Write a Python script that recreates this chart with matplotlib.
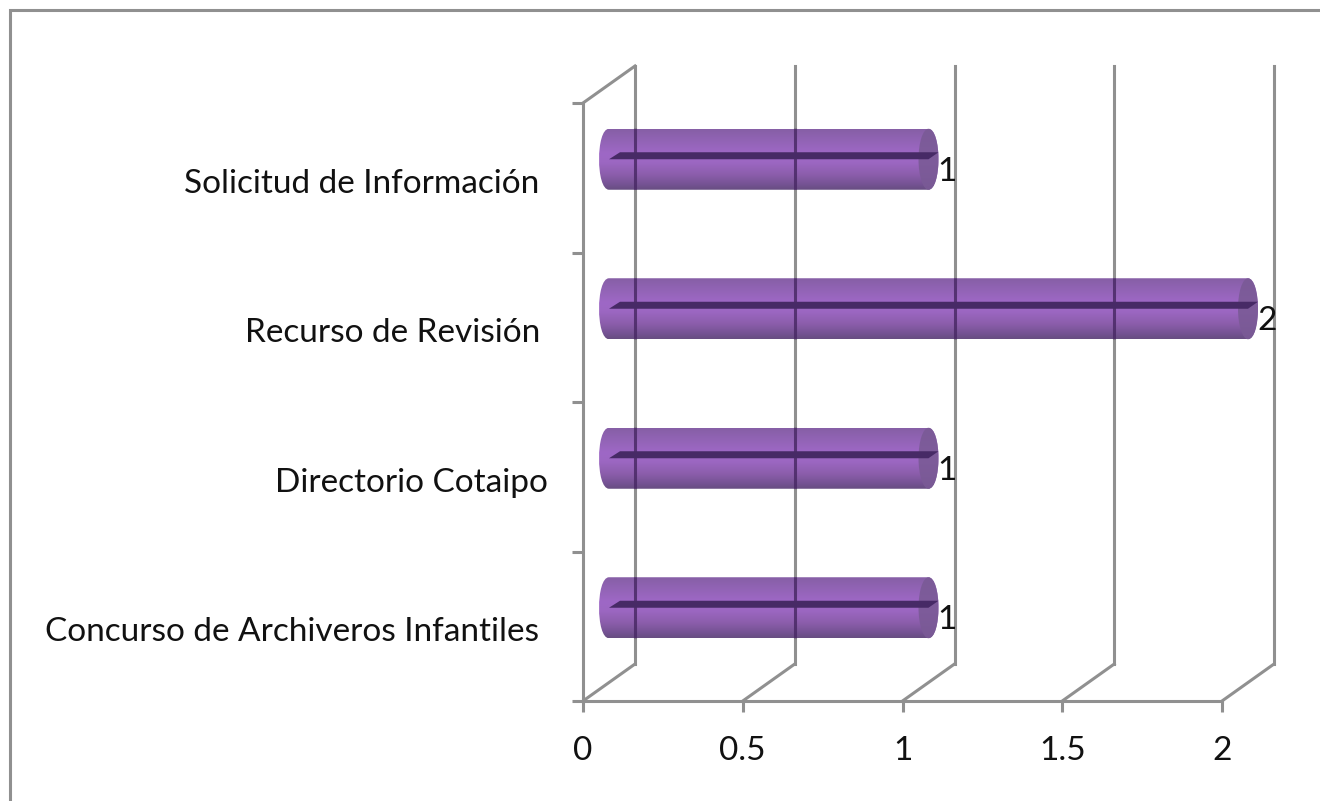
import matplotlib
matplotlib.use('Agg')
import matplotlib.pyplot as plt
import numpy as np
from matplotlib.patches import PathPatch, Rectangle, Ellipse
from matplotlib.path import Path
from matplotlib.transforms import Affine2D

categories = ['Concurso de Archiveros Infantiles', 'Directorio Cotaipo',
              'Recurso de Revisión', 'Solicitud de Información']
values = [1, 1, 2, 1]
x_ticks = [0, 0.5, 1, 1.5, 2]
x_tick_labels = ['0', '0.5', '1', '1.5', '2']

W, H = 1320, 801
GRAY = '#909090'
LINE = 2.2
FONT = 24
plt.rcParams['font.family'] = ['Lato', 'DejaVu Sans']

fig = plt.figure(figsize=(W / 100, H / 100), dpi=100)
fig.add_artist(Rectangle((9.5 / W, -0.1), 1.2, 1.1 - 10.5 / H, transform=fig.transFigure,
                         fill=False, ec=GRAY, lw=LINE))

# front plane of the fake 3d box
ax = fig.add_axes([583 / W, (H - 701) / H, (1222 - 583) / W, (701 - 103) / H])
ax.set_xlim(0, 2)
ax.set_ylim(0, 4)
ypos = np.arange(len(categories)) + 0.5

for name in ['top', 'right']:
    ax.spines[name].set_visible(False)
for name in ['left', 'bottom']:
    ax.spines[name].set_color(GRAY)
    ax.spines[name].set_linewidth(LINE)

ax.set_xticks(x_ticks)
ax.set_xticklabels(x_tick_labels, fontsize=FONT, color='#111111')
ax.set_yticks(ypos)
ax.set_yticklabels(categories, fontsize=FONT, color='#111111')
ax.set_yticks(np.arange(len(categories) + 1), minor=True)
ax.tick_params(axis='x', color=GRAY, width=LINE, length=8, pad=17.5)
ax.tick_params(axis='y', which='major', length=0)
ax.tick_params(axis='y', which='minor', color=GRAY, width=LINE, length=8)
# labels do not share one right edge
for tick, pad in zip(ax.yaxis.get_major_ticks(), [44, 35, 43, 44]):
    tick.set_pad(pad * 0.72)
for label in ax.get_yticklabels():
    label.set_transform(label.get_transform() + Affine2D().translate(0, -3))

depth_x, depth_y = 52, 37
back = ax.transData + Affine2D().translate(depth_x, depth_y)
mid = ax.transData + Affine2D().translate(depth_x / 2, depth_y / 2)
x_px = ax.transData.transform((1, 0))[0] - ax.transData.transform((0, 0))[0]
y_px = ax.transData.transform((0, 1))[1] - ax.transData.transform((0, 0))[1]

# floor and back wall lines
for x in x_ticks:
    ax.plot([x, x + depth_x / x_px], [0, depth_y / y_px], color=GRAY, lw=LINE, clip_on=False, zorder=2)
    ax.plot([x, x], [0, 4], color=GRAY, lw=LINE, transform=back, clip_on=False, zorder=2)
ax.plot([0, depth_x / x_px], [4, 4 + depth_y / y_px], color=GRAY, lw=LINE, clip_on=False, zorder=2)

bar_h = 61 / y_px
cap = 10 / x_px
# colours from top to bottom of the bar
shade = np.array([0.0, 0.12, 0.4, 0.55, 0.75, 0.92, 1.0])
r = np.array([0x86, 0x8e, 0x9e, 0x9c, 0x8c, 0x74, 0x68])
g = np.array([0x5f, 0x62, 0x68, 0x67, 0x5e, 0x52, 0x4e])
b = np.array([0xa6, 0xb0, 0xc6, 0xc2, 0xac, 0x92, 0x82])
t = np.linspace(0, 1, 61)
grad = np.stack([np.interp(t, shade, c) / 255 for c in (r, g, b)], axis=1)[:, None, :]

for y, v in zip(ypos, values):
    # body with rounded ends
    verts = [(0, y - bar_h / 2), (v, y - bar_h / 2),
             (v + cap * 1.33, y - bar_h / 2), (v + cap * 1.33, y + bar_h / 2), (v, y + bar_h / 2),
             (0, y + bar_h / 2),
             (-cap * 1.33, y + bar_h / 2), (-cap * 1.33, y - bar_h / 2), (0, y - bar_h / 2),
             (0, y - bar_h / 2)]
    codes = [Path.MOVETO, Path.LINETO, Path.CURVE4, Path.CURVE4, Path.CURVE4,
             Path.LINETO, Path.CURVE4, Path.CURVE4, Path.CURVE4, Path.CLOSEPOLY]
    outline = PathPatch(Path(verts, codes), transform=mid, fc='none', ec='none')
    ax.add_patch(outline)
    im = ax.imshow(grad, extent=(-2 * cap, v + 2 * cap, y - bar_h / 2, y + bar_h / 2),
                   aspect='auto', transform=mid, zorder=3, interpolation='bilinear')
    im.set_clip_box(fig.bbox)
    im.set_clip_path(outline)

    # gridlines show through the bar
    for x in x_ticks:
        line = ax.plot([x, x], [0, 4], color='#4a2a66', lw=LINE, alpha=0.85, transform=back, zorder=4)[0]
        line.set_clip_box(fig.bbox)
        line.set_clip_path(outline)

    # far end of the cylinder
    ax.add_patch(Ellipse((v, y), 2 * cap, bar_h, transform=mid, fc='#7a5a96', ec='none', alpha=0.9,
                         zorder=5, clip_on=False))

    # dark slit along the axis
    slit_h = 7 / y_px
    slit = [(0, y), (v, y), (v + cap, y + slit_h), (cap * 1.1, y + slit_h)]
    ax.add_patch(plt.Polygon(slit, closed=True, transform=mid, fc='#472a66', ec='none', zorder=6, clip_on=False))

    ax.annotate(str(v), (v, y), xytext=(45 * 0.72, 6 * 0.72), textcoords='offset points',
                ha='center', va='center', fontsize=FONT, color='#111111', zorder=7, annotation_clip=False)

ax.set_xlim(0, 2)
ax.set_ylim(0, 4)
ax.patch.set_visible(False)
fig.savefig('out.png', dpi=100)
